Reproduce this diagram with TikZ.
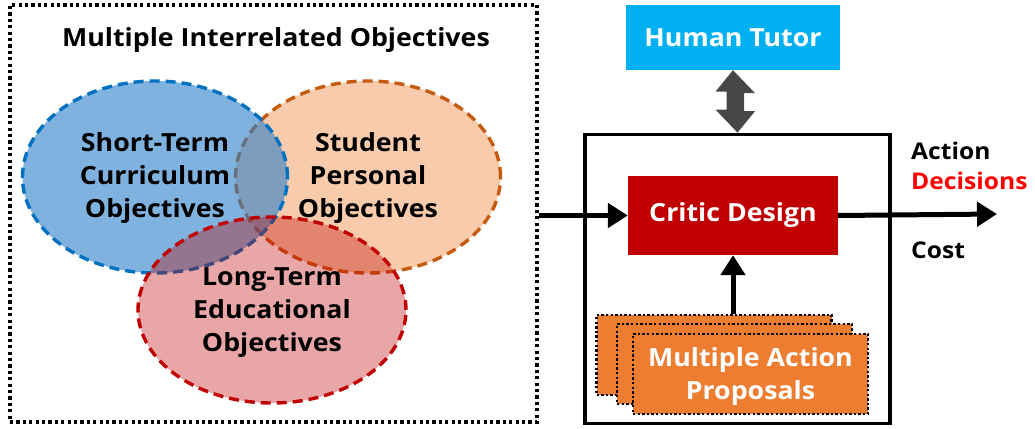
\documentclass[tikz,border=0pt]{standalone}
\usepackage{fontspec}
\setmainfont{Open Sans}[FakeStretch=1.07]
\usetikzlibrary{arrows.meta,shapes.geometric}
\definecolor{bluefill}{RGB}{42,127,200}
\definecolor{blueline}{RGB}{0,112,192}
\definecolor{orgfill}{RGB}{247,203,172}
\definecolor{orgline}{RGB}{197,90,17}
\definecolor{redfill}{RGB}{192,0,0}
\definecolor{redline}{RGB}{192,0,0}
\definecolor{tutorcol}{RGB}{0,176,240}
\definecolor{criticcol}{RGB}{192,0,0}
\definecolor{propcol}{RGB}{237,125,49}
\definecolor{dblarrow}{RGB}{71,71,71}
\definecolor{decred}{RGB}{255,0,0}
\tikzset{
  bigtxt/.style={font=\fontsize{25}{33}\selectfont\bfseries, align=center, inner sep=0pt},
  sidetxt/.style={font=\fontsize{23}{30}\selectfont\bfseries, align=left, anchor=west, inner sep=0pt},
  venn/.style={ellipse, line width=3.4pt, dash pattern=on 10pt off 6pt, inner sep=0pt},
  propbox/.style={fill=propcol, draw=black, line width=2.4pt, dash pattern=on 2.4pt off 2.2pt, minimum width=235pt, minimum height=80pt, inner sep=0pt},
  flow/.style={line width=5pt, -{Triangle[length=20pt,width=24pt]}},
}
\begin{document}
\begin{tikzpicture}[x=1pt,y=-1pt]
\useasboundingbox (0,0) rectangle (1035,428);
% outer dotted box
\node[draw=black, line width=3.2pt, dash pattern=on 3.2pt off 3.2pt, minimum width=527pt, minimum height=417pt, inner sep=0pt] (outer) at (273.5,213.5) {};
\node[bigtxt] (title) at (276,40) {Multiple Interrelated Objectives};
% Venn ellipses
\node[venn, draw=orgline, fill=orgfill, minimum width=265pt, minimum height=192pt] (student) at (368,177) {};
\node[venn, draw=blueline, fill=bluefill, fill opacity=0.6, minimum width=265pt, minimum height=192pt] (short) at (155,177) {};
\node[venn, draw=redline, fill=redfill, fill opacity=0.35, minimum width=268pt, minimum height=186pt] (long) at (272,310) {};
\node[bigtxt] (shorttxt) at (155,178) {Short-Term\\Curriculum\\Objectives};
\node[bigtxt] (studtxt) at (368,178) {Student\\Personal\\Objectives};
\node[bigtxt] (longtxt) at (272,313) {Long-Term\\Educational\\Objectives};
% right side
\node[fill=tutorcol, text=white, bigtxt, minimum width=214pt, minimum height=65pt] (tutor) at (733,37.5) {Human Tutor};
\node[draw=black, line width=3.8pt, minimum width=305pt, minimum height=289pt, inner sep=0pt] (frame) at (737.5,279) {};
\fill[dblarrow] (tutor.south) -- ++(22,23) -- ++(-11,0) -- ++(0,18) -- ++(11,0) -- (frame.north) -- ++(-22,-23) -- ++(11,0) -- ++(0,-18) -- ++(-11,0) -- cycle;
\node[fill=criticcol, text=white, bigtxt, minimum width=210pt, minimum height=79pt] (critic) at (733,215.5) {Critic Design};
\node[propbox] (p1) at (714,355) {};
\node[propbox] (p2) at (734.5,364) {};
\node[propbox] (p3) at (750.5,374) {};
\node[bigtxt, text=white] (proptxt) at (750.5,377) {Multiple Action\\Proposals};
\coordinate (outend) at (997,214);
\draw[flow] (outer.east |- critic.west) -- (critic.west);
\draw[flow] (critic.east) -- (outend);
\draw[flow] (p1.north -| critic.south) -- (critic.south);
\node[sidetxt] (action) at (911,151) {Action};
\node[sidetxt, text=decred] (decisions) at (911,181) {Decisions};
\node[sidetxt] (cost) at (911,250) {Cost};
\end{tikzpicture}
\end{document}
